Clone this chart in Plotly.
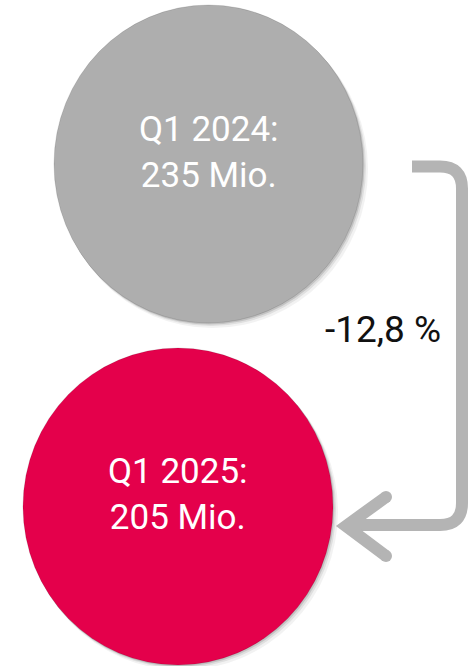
import plotly.graph_objects as go

# Data
PERIODS = ['Q1 2024', 'Q1 2025']
VALUES = [235, 205]  # Mio.
UNIT = 'Mio.'

# Styles
CIRCLE_COLOURS = ['#AEAEAE', '#E4004B']
ARROW_COLOUR = '#B4B4B4'
TEXT_COLOUR = '#FFFFFF'
W, H = 468, 666

# circle boxes (pixel space, x0, y0, x1, y1)
BOXES = [(54, 5, 363, 323), (23, 348, 333, 665)]

change = (VALUES[1] - VALUES[0]) / VALUES[0] * 100
change_label = f'{change:.1f} %'.replace('.', ',')

fig = go.Figure()
shapes = []
annotations = []

for (x0, y0, x1, y1), colour, period, value in zip(BOXES, CIRCLE_COLOURS, PERIODS, VALUES):
    # soft shadow
    for off, alpha in [(5, 0.05), (3, 0.08), (1.5, 0.12)]:
        shapes.append(dict(type='circle', xref='x', yref='y',
                           x0=x0 + off * 0.6, y0=y0 + off, x1=x1 + off, y1=y1 + off,
                           fillcolor=f'rgba(0,0,0,{alpha})', line=dict(width=0),
                           layer='below'))
    shapes.append(dict(type='circle', xref='x', yref='y',
                       x0=x0, y0=y0, x1=x1, y1=y1,
                       fillcolor=colour, line=dict(color='rgba(0,0,0,0.15)', width=0.8),
                       layer='below'))
    cx = (x0 + x1) / 2
    cy = (y0 + y1) / 2
    annotations.append(dict(x=cx, y=cy - 12, xref='x', yref='y',
                            text=f'{period}:<br>{value} {UNIT}',
                            showarrow=False,
                            font=dict(family='Roboto', size=35, color=TEXT_COLOUR),
                            align='center'))

# connector arrow
shapes.append(dict(type='path', xref='x', yref='y',
                   path='M 412 166.5 L 440 166.5 Q 462 166.5 462 188.5 '
                        'L 462 503 Q 462 525 440 525 L 350 525',
                   line=dict(color=ARROW_COLOUR, width=12)))
shapes.append(dict(type='path', xref='x', yref='y',
                   path='M 386 497 L 346 526 L 386 556',
                   line=dict(color=ARROW_COLOUR, width=12)))
for ex, ey in [(386, 497), (386, 556)]:
    shapes.append(dict(type='circle', xref='x', yref='y',
                       x0=ex - 6, y0=ey - 6, x1=ex + 6, y1=ey + 6,
                       fillcolor=ARROW_COLOUR, line=dict(width=0)))

annotations.append(dict(x=383, y=329, xref='x', yref='y', text=change_label,
                        showarrow=False,
                        font=dict(family='Roboto', size=37, color='#111111')))

fig.update_layout(width=W, height=H, margin=dict(l=0, r=0, t=0, b=0),
                  paper_bgcolor='white', plot_bgcolor='white',
                  shapes=shapes, annotations=annotations, showlegend=False)
fig.update_xaxes(range=[0, W], visible=False, showgrid=False, zeroline=False)
fig.update_yaxes(range=[H, 0], visible=False, showgrid=False, zeroline=False)

fig.write_html('out.html', config={'displayModeBar': False},
               post_script="document.body.style.margin='0';"
                           "document.body.style.overflow='hidden';")
